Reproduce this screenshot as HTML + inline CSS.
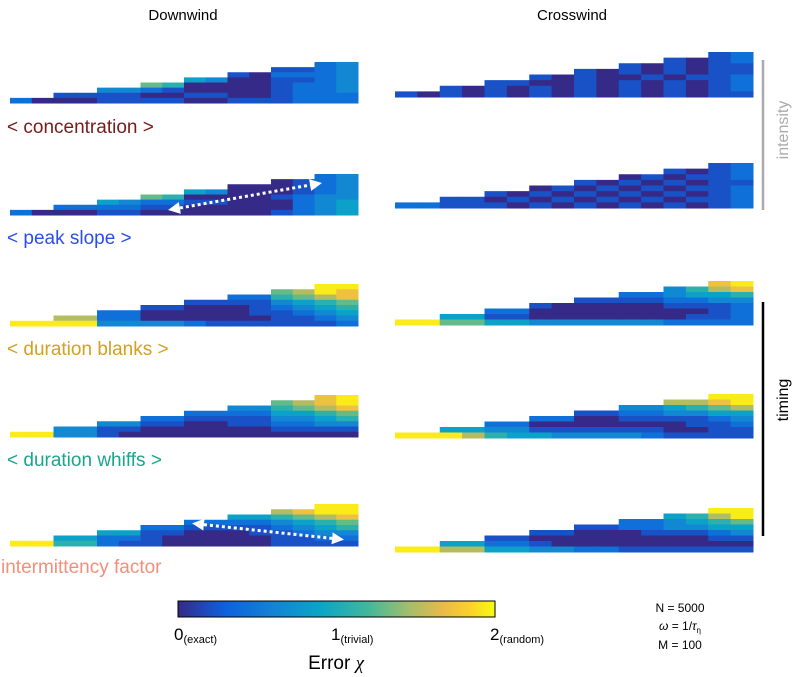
<!DOCTYPE html>
<html><head><meta charset="utf-8"><style>
body{margin:0;background:#fff;font-family:"Liberation Sans",sans-serif}
svg{display:block}
</style></head><body>
<svg id="fig" width="796" height="677" viewBox="0 0 796 677" xmlns="http://www.w3.org/2000/svg">
<defs>
<linearGradient id="parula" x1="0" x2="1" y1="0" y2="0">
<stop offset="0" stop-color="#352a87"/><stop offset="0.15" stop-color="#0d61de"/><stop offset="0.3" stop-color="#1483d4"/><stop offset="0.45" stop-color="#0aa5c7"/><stop offset="0.6" stop-color="#41b89b"/><stop offset="0.72" stop-color="#9dbe6d"/><stop offset="0.83" stop-color="#e7b94b"/><stop offset="0.92" stop-color="#fcd02c"/><stop offset="1" stop-color="#f9fb0e"/>
</linearGradient>
<marker id="ah" viewBox="0 0 10 10" refX="5" refY="5" markerWidth="4" markerHeight="4" orient="auto-start-reverse"><path d="M0,0L10,5L0,10z" fill="#fff"/></marker>
</defs>
<text x="183" y="20" font-size="15" text-anchor="middle">Downwind</text>
<text x="572" y="20" font-size="15" text-anchor="middle">Crosswind</text>
<g id="cells"></g>
<text x="7" y="133" font-size="19" fill="#7a1a1a">&lt; concentration &gt;</text>
<text x="7" y="244" font-size="19" fill="#2a4ee8">&lt; peak slope &gt;</text>
<text x="7" y="355" font-size="19" fill="#d4a020">&lt; duration blanks &gt;</text>
<text x="7" y="466" font-size="19" fill="#1aa58c">&lt; duration whiffs &gt;</text>
<text x="1" y="573" font-size="19" fill="#f0907a">intermittency factor</text>
<line x1="174" y1="209" x2="316" y2="184" stroke="#fff" stroke-width="3" stroke-dasharray="3,3" marker-start="url(#ah)" marker-end="url(#ah)"/>
<line x1="198" y1="524" x2="338" y2="539" stroke="#fff" stroke-width="3" stroke-dasharray="3,3" marker-start="url(#ah)" marker-end="url(#ah)"/>
<line x1="763" y1="60" x2="763" y2="210" stroke="#aaa" stroke-width="2.5"/>
<text transform="translate(788,130) rotate(-90)" font-size="16" fill="#aaa" text-anchor="middle">intensity</text>
<line x1="763" y1="302" x2="763" y2="536" stroke="#000" stroke-width="2.5"/>
<text transform="translate(788,400) rotate(-90)" font-size="16" text-anchor="middle">timing</text>
<rect x="178" y="601" width="317" height="16" fill="url(#parula)" stroke="#000" stroke-width="1"/>
<text x="174" y="640" font-size="17">0<tspan font-size="11" dy="3">(exact)</tspan></text>
<text x="331" y="640" font-size="17">1<tspan font-size="11" dy="3">(trivial)</tspan></text>
<text x="490" y="640" font-size="17">2<tspan font-size="11" dy="3">(random)</tspan></text>
<text x="336" y="669" font-size="19" text-anchor="middle">Error <tspan font-family="Liberation Serif" font-style="italic">χ</tspan></text>
<text x="680" y="612" font-size="12" text-anchor="middle">N = 5000</text>
<text x="680" y="630" font-size="12" text-anchor="middle"><tspan font-style="italic">ω</tspan> = 1/<tspan font-style="italic">τ</tspan><tspan font-size="8" dy="3">η</tspan></text>
<text x="680" y="649" font-size="12" text-anchor="middle">M = 100</text>
</svg>
<script>
const colHeights=[1,1,2,2,3,3,4,4,5,5,6,6,7,7,8,8];
const L_conc=["..............23","............1123","..........102223","........43001123","......6500001223","....332100001223","..11110011001222","2000111100111222"];
const L_peak=["..............23","............0123","..........000123","........43000123","......6500001233","....432211000234","..22221100000234","2000110000001234"];
const L_blank=["..............99","............6798","..........225678","........11113456","......1100012345","....220000011234","..77220000001123","9999333321111112"];
const L_whiff=["..............89","............6789","..........335678","........22224456","......2211113345","....331100112233","..33110000001111","9933100000000000"];
const L_inter=["..............99","............7899","..........445678","........22223456","......2211112345","....441100011233","..44221000001122","9955211000001111"];
const R_conc=["..............12","............1012","..........101011","........10101011","......1010010112","....110010101012","..10101010101012","1010101010101011"];
const R_peak=["..............12","............1012","..........010112","........10101011","......0101010112","....101010101012","..11010101010112","2211101010101012"];
const R_blank=["..............89","............3578","..........223445","........11112233","......1000001112","....220000000012","..44110000000112","9966443333332222"];
const R_whiff=["..............99","............7789","..........334567","........11223344","......2200111123","....220000000112","..44331111110011","9997544333321111"];
const R_inter=["..............99","............4579","..........223456","........11223344","......1100011123","....110000000011","..44221000000000","9977443322111111"];
const panels=[
 {n:'downwind-concentration',d:L_conc,x:10,w:348,b:103,h:41},
 {n:'downwind-peak-slope',d:L_peak,x:10,w:348,b:215,h:41},
 {n:'downwind-duration-blanks',d:L_blank,x:10,w:348,b:326,h:42},
 {n:'downwind-duration-whiffs',d:L_whiff,x:10,w:348,b:437,h:42},
 {n:'downwind-intermittency',d:L_inter,x:10,w:348,b:546,h:42},
 {n:'crosswind-concentration',d:R_conc,x:395,w:358,b:97,h:45},
 {n:'crosswind-peak-slope',d:R_peak,x:395,w:358,b:208,h:45},
 {n:'crosswind-duration-blanks',d:R_blank,x:395,w:358,b:325,h:44},
 {n:'crosswind-duration-whiffs',d:R_whiff,x:395,w:358,b:438,h:44},
 {n:'crosswind-intermittency',d:R_inter,x:395,w:358,b:552,h:44}];
const stops=[[0,[53,42,135]],[.15,[13,97,222]],[.3,[20,131,212]],[.45,[10,165,199]],[.6,[65,184,155]],[.72,[157,190,109]],[.83,[231,185,75]],[.92,[252,208,44]],[1,[249,251,14]]];
function cmap(t){for(let i=1;i<stops.length;i++){if(t<=stops[i][0]){const a=stops[i-1],b=stops[i],f=(t-a[0])/(b[0]-a[0]);return 'rgb('+a[1].map((v,k)=>Math.round(v+(b[1][k]-v)*f)).join(',')+')';}}return 'rgb(249,251,14)';}
const NS='http://www.w3.org/2000/svg',g=document.getElementById('cells');
panels.forEach(p=>{
 const pg=document.createElementNS(NS,'g');
 
 
 const cw=p.w/16,rh=p.h/8;
 p.d.forEach((row,r)=>{for(let c=0;c<16;c++){const ch=row[c];if(ch==='.'||r<8-colHeights[c])continue;
  const el=document.createElementNS(NS,'rect');
  el.setAttribute('x',(p.x+c*cw).toFixed(2));el.setAttribute('y',(p.b-(8-r)*rh).toFixed(2));
  el.setAttribute('width',(cw+0.5).toFixed(2));el.setAttribute('height',(rh+0.5).toFixed(2));
  el.setAttribute('fill',cmap(+ch/9*0.97));
  
  
  pg.appendChild(el);}});
 g.appendChild(pg);
});
</script>
</body></html>
